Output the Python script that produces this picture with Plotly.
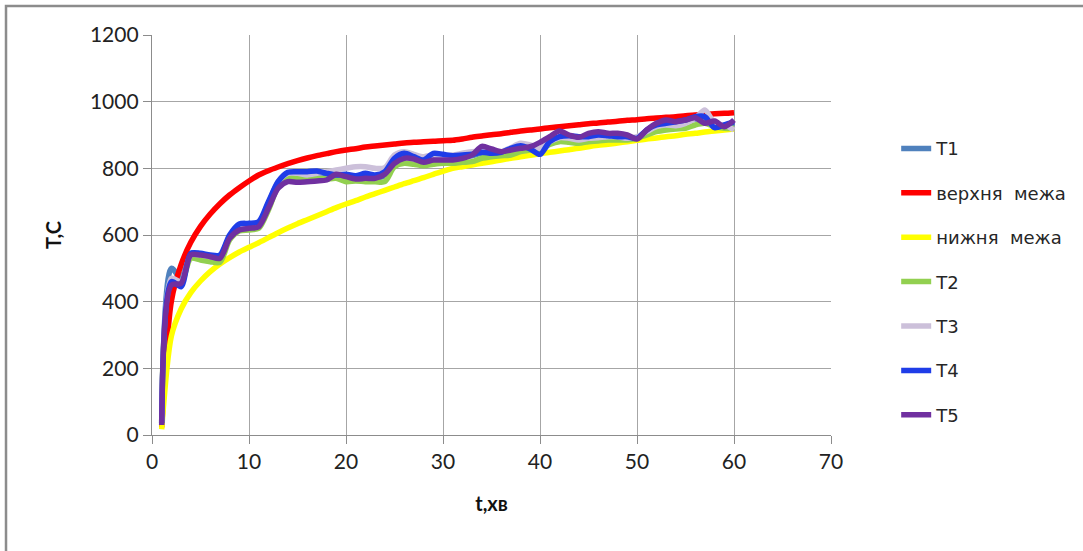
import plotly.graph_objects as go

t = list(range(1, 61))

T1 = [40, 500, 470, 545, 540, 538, 535, 595, 625, 630,
      635, 695, 755, 780, 782, 785, 785, 780, 775, 778,
      775, 775, 772, 778, 825, 838, 832, 822, 835, 835,
      832, 835, 838, 845, 842, 845, 855, 862, 858, 850,
      875, 890, 893, 890, 892, 895, 895, 892, 892, 890,
      910, 925, 930, 935, 940, 948, 950, 925, 928, 935]

upper = [23, 402, 511, 578, 626, 663, 694, 720, 742, 762,
         780, 793, 804, 814, 823, 831, 838, 844, 850, 855,
         859, 864, 867, 870, 873, 876, 878, 880, 881, 883,
         884, 888, 893, 897, 901, 904, 908, 912, 915, 918,
         922, 925, 928, 931, 934, 936, 939, 941, 944, 946,
         949, 951, 953, 955, 958, 960, 962, 964, 965, 967]

lower = [17, 297, 378, 427, 462, 490, 513, 532, 549, 563,
         577, 592, 607, 621, 634, 646, 658, 670, 682, 693,
         703, 714, 724, 734, 744, 754, 763, 772, 782, 791,
         800, 805, 810, 815, 820, 825, 830, 835, 839, 844,
         848, 852, 856, 860, 865, 869, 872, 876, 880, 884,
         888, 891, 895, 898, 902, 905, 909, 912, 915, 918]

T2 = [35, 455, 455, 530, 525, 520, 518, 585, 612, 615,
      620, 675, 745, 770, 770, 772, 770, 768, 770, 760,
      762, 760, 760, 760, 805, 815, 812, 808, 812, 815,
      815, 818, 820, 830, 835, 838, 840, 850, 855, 858,
      872, 880, 878, 875, 880, 882, 885, 885, 885, 890,
      900, 910, 915, 918, 920, 930, 935, 925, 920, 920]

T3 = [40, 470, 460, 540, 540, 535, 535, 595, 625, 628,
      635, 695, 760, 785, 785, 780, 785, 790, 795, 800,
      805, 805, 800, 802, 840, 850, 842, 835, 840, 838,
      840, 845, 850, 850, 850, 850, 862, 875, 870, 860,
      880, 892, 890, 885, 890, 892, 895, 895, 890, 895,
      910, 925, 930, 928, 935, 950, 975, 935, 930, 915]

T4 = [35, 460, 445, 545, 545, 540, 540, 600, 633, 635,
      640, 700, 760, 788, 790, 790, 792, 785, 780, 782,
      778, 785, 780, 790, 830, 845, 835, 825, 845, 842,
      838, 840, 842, 848, 845, 848, 860, 868, 858, 842,
      880, 895, 898, 895, 895, 900, 898, 895, 895, 890,
      915, 930, 935, 940, 945, 955, 955, 922, 930, 940]

T5 = [30, 450, 455, 540, 540, 535, 530, 590, 615, 620,
      625, 680, 740, 760, 758, 760, 762, 765, 782, 775,
      768, 770, 770, 782, 815, 830, 828, 818, 825, 825,
      825, 830, 840, 866, 858, 850, 855, 860, 865, 878,
      895, 912, 900, 893, 905, 910, 905, 905, 900, 888,
      915, 935, 945, 940, 945, 952, 935, 942, 925, 945]

series = [
    ("T1", T1, "#4F81BD"),
    ("верхня  межа", upper, "#FF0000"),
    ("нижня  межа", lower, "#FFFF00"),
    ("T2", T2, "#92D050"),
    ("T3", T3, "#CCC0DA"),
    ("T4", T4, "#1F3DE8"),
    ("T5", T5, "#7030A0"),
]

fig = go.Figure()
for i, (name, vals, col) in enumerate(series):
    fig.add_trace(go.Scatter(
        x=t, y=vals, name=name, mode="lines",
        line=dict(color=col, width=5.5, shape="spline", smoothing=0.8),
        legendgroup=f"g{i}",
    ))

grid = "#A6A6A6"
fig.update_layout(
    width=1083, height=551,
    margin=dict(l=152, r=252, t=35, b=116),
    paper_bgcolor="white", plot_bgcolor="white",
    font=dict(family="Lato", color="#222222"),
    showlegend=True,
    legend=dict(x=1.096, y=0.762, xanchor="left", yanchor="top",
                font=dict(size=18, family="DejaVu Sans", color="#262626"),
                tracegroupgap=18, bgcolor="rgba(0,0,0,0)"),
    xaxis=dict(range=[0, 70], dtick=10, tick0=0,
               showgrid=True, gridcolor=grid, gridwidth=1.3,
               showline=True, linecolor="#8C8C8C", linewidth=1.3,
               ticks="outside", ticklen=8, tickcolor="#8C8C8C",
               tickfont=dict(size=21, family="Lato", color="#222222"),
               zeroline=False,
               title=dict(text="<b>t,хв</b>", font=dict(size=20, family="Lato", color="#111111"),
                          standoff=24)),
    yaxis=dict(range=[0, 1200], dtick=200, tick0=0,
               showgrid=True, gridcolor=grid, gridwidth=1.3,
               showline=True, linecolor="#8C8C8C", linewidth=1.3,
               ticks="outside", ticklen=8, tickcolor="#8C8C8C",
               tickfont=dict(size=21, family="Lato", color="#222222"),
               zeroline=False,
               title=dict(text="<b>T,C</b>", font=dict(size=20, family="Lato", color="#111111"),
                          standoff=22)),
)

# outer chart frame (left and top edges visible)
fig.add_shape(type="path", xref="paper", yref="paper",
              path="M -0.2150 -0.3 L -0.2150 1.0725 L 1.45 1.0725",
              line=dict(color="#8C8C8C", width=2.5))

fig.write_html("out.html", config={"displayModeBar": False},
               post_script="document.body.style.margin='0';")
